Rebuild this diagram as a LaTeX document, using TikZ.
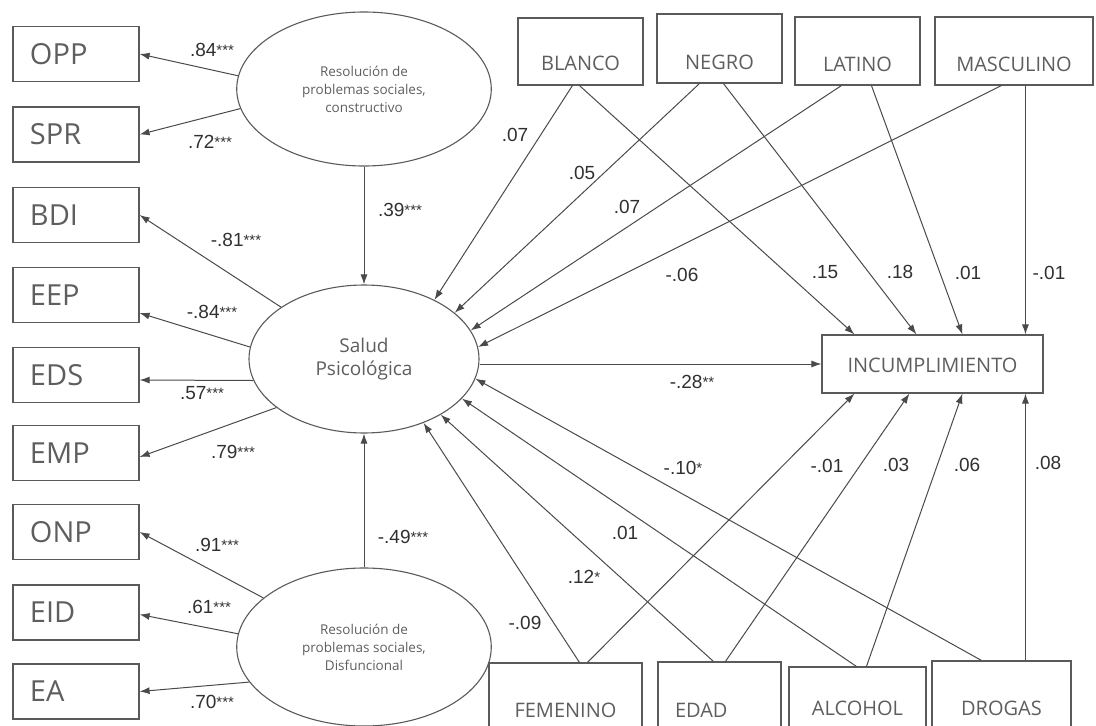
\documentclass[tikz,border=0pt]{standalone}
\usepackage{fontspec}
\setmainfont{Open Sans}
\newfontfamily\numfont{Liberation Sans}
\usetikzlibrary{shapes.geometric,arrows.meta}
\definecolor{linec}{HTML}{4A4A4A}
\definecolor{boxc}{HTML}{5A5A5A}
\definecolor{txtc}{HTML}{5E5E5E}
\definecolor{numc}{HTML}{303030}
\newcommand{\sig}[1]{{\fontsize{15}{15}\selectfont\raisebox{1pt}{#1}}}
\begin{document}
\begin{tikzpicture}[x=1pt,y=-1pt,
  lbox/.style={draw=boxc, line width=1.2pt, minimum width=126pt, minimum height=55pt,
    text width=92pt, inner xsep=17pt, align=left, text=txtc,
    font=\fontsize{29}{30}\selectfont},
  rbox/.style n args={3}{draw=boxc, line width=1.1pt, minimum width=#1, inner ysep=0pt,
    text height=#2, text depth=#3, text=txtc, font=\fontsize{20}{22}\selectfont},
  ell/.style={draw=boxc, line width=1.1pt, ellipse, inner sep=0pt, align=center, text=txtc},
  arr/.style={draw=linec, line width=1pt, -{Latex[length=10pt,width=7pt]}},
  num/.style={text=numc, inner sep=0pt, font=\numfont\fontsize{19}{20}\selectfont}]
\useasboundingbox (0,0) rectangle (1096,726);
\clip (0,0) rectangle (1096,726);
% left indicator boxes
\node[lbox] (opp) at (76,54) {OPP};
\node[lbox] (spr) at (76,134.5) {SPR};
\node[lbox] (bdi) at (76,215) {BDI};
\node[lbox] (eep) at (76,295) {EEP};
\node[lbox] (eds) at (76,375) {EDS};
\node[lbox] (emp) at (76,453) {EMP};
\node[lbox] (onp) at (76,532) {ONP};
\node[lbox] (eid) at (76,612.5) {EID};
\node[lbox] (ea) at (76,691.5) {EA};
% ellipses
\node[ell, minimum width=230pt, minimum height=154pt, font=\fontsize{13.5}{18}\selectfont] (top) at (364,89)
  {\raisebox{-7pt}{\parbox{180pt}{\centering Resolución de\\problemas sociales,\\constructivo}}};
\node[ell, minimum width=230pt, minimum height=148pt, font=\fontsize{19}{23}\selectfont] (sal) at (364,359)
  {Salud\\Psicológica};
\node[ell, minimum width=230pt, minimum height=158pt, font=\fontsize{13.5}{18}\selectfont] (bot) at (364,647)
  {\raisebox{6pt}{\parbox{180pt}{\centering Resolución de\\problemas sociales,\\Disfuncional}}};
% right boxes
\node[rbox={125pt}{52pt}{15pt}] (blanco) at (580.5,51.5) {BLANCO};
\node[rbox={125pt}{55pt}{14pt}] (negro) at (719.5,48.5) {NEGRO};
\node[rbox={125pt}{54pt}{14pt}] (latino) at (857.5,51) {LATINO};
\node[rbox={158pt}{54pt}{14pt}] (masc) at (1014,51) {MASCULINO};
\node[rbox={221pt}{37pt}{21pt}] (inc) at (932.5,364) {INCUMPLIMIENTO};
\node[rbox={153pt}{54pt}{28pt}] (fem) at (565.5,704) {FEMENINO};
\node[rbox={123pt}{55pt}{28pt}, text width=89pt, inner xsep=17pt, align=left] (edad) at (719.5,703.5) {EDAD};
\node[rbox={137pt}{48pt}{30pt}] (alc) at (857.5,706) {ALCOHOL};
\node[rbox={139pt}{54pt}{30pt}] (drog) at (1001.5,703) {DROGAS};
% measurement model arrows
\draw[arr] (top.174) -- (opp.east);
\draw[arr] (top.-171) -- (spr.east);
\draw[arr] (top.south) -- (sal.north);
\draw[arr] (sal.148) -- (bdi.east);
\draw[arr] (sal.174) -- ([yshift=-18pt]eep.east);
\draw[arr] (sal.191) -- ([yshift=-5pt]eds.east);
\draw[arr] (sal.209) -- ([yshift=-4pt]emp.east);
\draw[arr] (bot.north) -- (sal.south);
\draw[arr] (bot.154) -- (onp.east);
\draw[arr] (bot.174) -- ([yshift=-2pt]eid.east);
\draw[arr] (bot.197) -- (ea.east);
% Salud -> Incumplimiento
\draw[arr] (sal.east |- inc.west) -- (inc.west);
% covariates -> Salud
\draw[arr] ([xshift=55pt]blanco.south west) -- (sal.40);
\draw[arr] ([xshift=43pt]negro.south west) -- (sal.27);
\draw[arr] ([xshift=47pt]latino.south west) -- (sal.15);
\draw[arr] ([xshift=67pt]masc.south west) -- (sal.6);
\draw[arr] ([xshift=91pt]fem.north west) -- (sal.-47);
\draw[arr] ([xshift=56pt]edad.north west) -- (sal.-36);
\draw[arr] ([xshift=68pt]alc.north west) -- (sal.-22);
\draw[arr] ([xshift=50pt]drog.north west) -- (sal.-10);
% covariates -> Incumplimiento
\draw[arr] ([xshift=62pt]blanco.south west) -- ([xshift=33pt]inc.north west);
\draw[arr] ([xshift=67pt]negro.south west) -- ([xshift=95pt]inc.north west);
\draw[arr] ([xshift=77pt]latino.south west) -- ([xshift=141pt]inc.north west);
\draw[arr] ([xshift=91pt]masc.south west) -- ([xshift=204pt]inc.north west);
\draw[arr] ([xshift=99pt]fem.north west) -- ([xshift=33pt]inc.south west);
\draw[arr] ([xshift=68pt]edad.north west) -- ([xshift=88pt]inc.south west);
\draw[arr] ([xshift=78pt]alc.north west) -- ([xshift=141pt]inc.south west);
\draw[arr] ([xshift=94pt]drog.north west) -- ([xshift=204pt]inc.south west);
% coefficient labels
\node[num] (c1) at (212,50) {.84\sig{***}};
\node[num] (c2) at (210,142) {.72\sig{***}};
\node[num] (c3) at (400,210) {.39\sig{***}};
\node[num] (c4) at (236,240) {-.81\sig{***}};
\node[num] (c5) at (212,312) {-.84\sig{***}};
\node[num] (c6) at (202,393) {.57\sig{***}};
\node[num] (c7) at (233,452) {.79\sig{***}};
\node[num] (c8) at (403,537) {-.49\sig{***}};
\node[num] (c9) at (217,545) {.91\sig{***}};
\node[num] (c10) at (209,607) {.61\sig{***}};
\node[num] (c11) at (212,702) {.70\sig{***}};
\node[num] (c12) at (515,135) {.07};
\node[num] (c13) at (582,173) {.05};
\node[num] (c14) at (627,207) {.07};
\node[num] (c15) at (682,275) {-.06};
\node[num] (c16) at (825,272) {.15};
\node[num] (c17) at (900,272) {.18};
\node[num] (c18) at (968,273) {.01};
\node[num] (c19) at (1049,273) {-.01};
\node[num] (c20) at (692,382) {-.28\sig{**}};
\node[num] (c21) at (683,468) {-.10\sig{*}};
\node[num] (c22) at (827,466) {-.01};
\node[num] (c23) at (896,465) {.03};
\node[num] (c24) at (967,465) {.06};
\node[num] (c25) at (1048,463) {.08};
\node[num] (c26) at (625,533) {.01};
\node[num] (c27) at (584,577) {.12\sig{*}};
\node[num] (c28) at (525,623) {-.09};
\end{tikzpicture}
\end{document}
